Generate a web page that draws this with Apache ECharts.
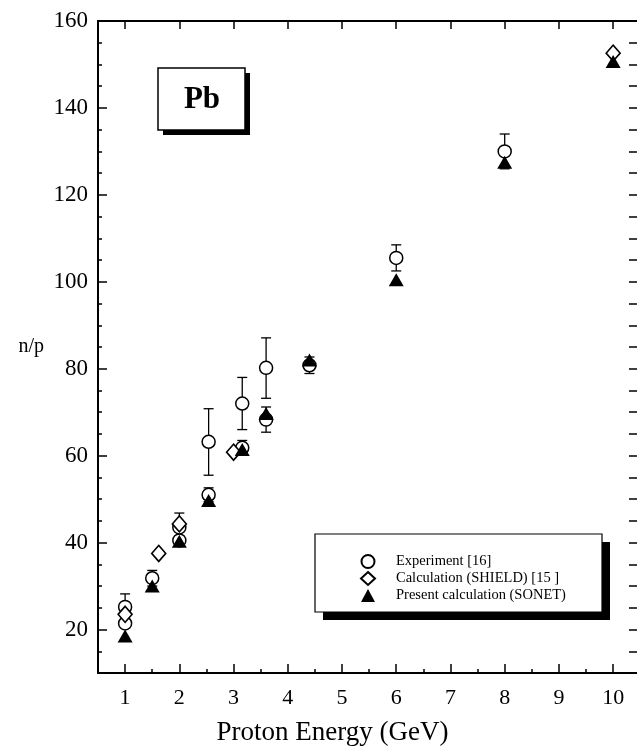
<!DOCTYPE html>
<html>
<head>
<meta charset="utf-8">
<script src="https://cdn.jsdelivr.net/npm/echarts@6/dist/echarts.min.js"></script>
<style>
  html, body { margin: 0; padding: 0; background: #fff; }
  #chart { width: 637px; height: 751px; }
</style>
</head>
<body>
<div id="chart"></div>
<script>
// Tick positions
const xMajorTicks = [1, 2, 3, 4, 5, 6, 7, 8, 9, 10];
const xMinorTicks = [1.5, 2.5, 3.5, 4.5, 5.5, 6.5, 7.5, 8.5, 9.5];
const yMajorTicks = [20, 40, 60, 80, 100, 120, 140, 160];
const yMinorTicks = [15, 25, 30, 35, 45, 50, 55, 65, 70, 75, 85, 90, 95,
                     105, 110, 115, 125, 130, 135, 145, 150, 155];

// Experiment [16]: energy (GeV), n/p, error bar low / high
const expEnergy = [1.0, 1.0, 1.5, 2.0, 2.0, 2.54, 2.54, 3.16, 3.16, 3.6, 3.6, 4.4, 6.0, 8.0];
const expValue  = [25.2, 21.4, 31.8, 43.5, 40.5, 63.2, 51.0, 72.0, 61.8, 80.2, 68.3, 80.8, 105.5, 130.0];
const expLow    = [22.2, 21.4, 30.0, 40.2, 39.5, 55.5, 49.4, 66.0, 60.1, 73.2, 65.4, 78.9, 102.5, 126.0];
const expHigh   = [28.2, 21.4, 33.6, 46.8, 41.5, 70.8, 52.6, 78.0, 63.5, 87.1, 71.2, 82.7, 108.5, 134.0];

// Calculation (SHIELD) [15]
const shieldEnergy = [1.0, 1.62, 2.0, 3.0, 10.0];
const shieldValue  = [23.5, 37.5, 44.3, 60.8, 152.6];

// Present calculation (SONET)
const sonetEnergy = [1.0, 1.5, 2.0, 2.54, 3.16, 3.6, 4.4, 6.0, 8.0, 10.0];
const sonetValue  = [18.5, 30.0, 40.3, 49.7, 61.4, 69.7, 82.0, 100.5, 127.5, 150.7];

const FONT = '"Liberation Serif", "DejaVu Serif", serif';
const INK = '#000';
const X_MIN = 0.5, X_MAX = 10.44;

const errorData = expEnergy
  .map((e, i) => [e, expValue[i], expLow[i], expHigh[i]])
  .filter(d => d[3] > d[2]);

const chart = echarts.init(document.getElementById('chart'), null, { renderer: 'canvas' });

chart.setOption({
  animation: false,
  backgroundColor: '#fff',
  grid: { left: 98, top: 21, width: 543, height: 658, containLabel: false },
  xAxis: [
    {
      type: 'value', position: 'bottom', min: X_MIN, max: X_MAX,
      axisLine: { show: true, lineStyle: { color: INK, width: 2 } },
      axisTick: { show: true, inside: true, length: 9, customValues: xMajorTicks,
                  lineStyle: { color: INK, width: 1.5 } },
      axisLabel: { customValues: xMajorTicks, color: INK, fontFamily: FONT, fontSize: 22, margin: 14 },
      splitLine: { show: false },
      name: 'Proton Energy (GeV)', nameLocation: 'middle', nameGap: 46,
      nameTextStyle: { color: INK, fontFamily: FONT, fontSize: 27, padding: [0, 70, 0, 0] }
    },
    {
      type: 'value', position: 'bottom', min: X_MIN, max: X_MAX,
      axisLine: { show: false },
      axisTick: { show: true, inside: true, length: 4, customValues: xMinorTicks,
                  lineStyle: { color: INK, width: 1.5 } },
      axisLabel: { show: false },
      splitLine: { show: false }
    },
    {
      type: 'value', position: 'top', min: X_MIN, max: X_MAX,
      axisLine: { show: true, lineStyle: { color: INK, width: 2 } },
      axisTick: { show: true, inside: true, length: 8, customValues: xMajorTicks,
                  lineStyle: { color: INK, width: 1.5 } },
      axisLabel: { show: false },
      splitLine: { show: false }
    }
  ],
  yAxis: [
    {
      type: 'value', position: 'left', min: 10, max: 160,
      axisLine: { show: true, lineStyle: { color: INK, width: 2 } },
      axisTick: { show: true, inside: true, length: 9, customValues: yMajorTicks,
                  lineStyle: { color: INK, width: 1.5 } },
      axisLabel: { customValues: yMajorTicks, color: INK, fontFamily: FONT, fontSize: 23, margin: 10 },
      splitLine: { show: false },
      name: 'n/p', nameLocation: 'middle', nameRotate: 0, nameGap: 54,
      nameTextStyle: { color: INK, fontFamily: FONT, fontSize: 20, padding: [10, 0, 0, 0] }
    },
    {
      type: 'value', position: 'left', min: 10, max: 160,
      axisLine: { show: false },
      axisTick: { show: true, inside: true, length: 4, customValues: yMinorTicks,
                  lineStyle: { color: INK, width: 1.5 } },
      axisLabel: { show: false },
      splitLine: { show: false }
    },
    {
      // right frame: only its inward ticks fall inside the canvas
      type: 'value', position: 'right', min: 10, max: 160,
      axisLine: { show: false },
      axisTick: { show: true, inside: true, length: 8,
                  customValues: yMajorTicks.concat(yMinorTicks),
                  lineStyle: { color: INK, width: 1.5 } },
      axisLabel: { show: false },
      splitLine: { show: false }
    }
  ],
  legend: {
    orient: 'vertical', left: 355, top: 549,
    itemWidth: 14, itemHeight: 13, itemGap: 2,
    textStyle: { color: INK, fontFamily: FONT, fontSize: 14.5, padding: [0, 0, 0, 16] },
    data: ['Experiment [16]', 'Calculation (SHIELD) [15 ]', 'Present calculation (SONET)']
  },
  graphic: [
    // Pb label box with drop shadow
    { type: 'rect', shape: { x: 163, y: 73, width: 87, height: 62 }, style: { fill: INK }, z: 100 },
    { type: 'rect', shape: { x: 158, y: 68, width: 87, height: 62 },
      style: { fill: '#fff', stroke: INK, lineWidth: 1.5 }, z: 101 },
    { type: 'text', x: 202, y: 100, z: 102,
      style: { text: 'Pb', fill: INK, font: 'bold 31px ' + FONT, textAlign: 'center', textVerticalAlign: 'middle' } },
    // Legend frame with drop shadow
    { type: 'rect', shape: { x: 323, y: 542, width: 287, height: 78 }, style: { fill: INK }, z: 1 },
    { type: 'rect', shape: { x: 315, y: 534, width: 287, height: 78 },
      style: { fill: '#fff', stroke: INK, lineWidth: 1.2 }, z: 2 }
  ],
  series: [
    {
      type: 'custom', name: 'errors', xAxisIndex: 0, yAxisIndex: 0, z: 3,
      encode: { x: 0, y: [1, 2, 3] },
      data: errorData,
      renderItem(params, api) {
        const e = api.value(0);
        const lo = api.coord([e, api.value(2)]);
        const hi = api.coord([e, api.value(3)]);
        const cap = 5;
        const st = { stroke: INK, lineWidth: 1.3 };
        return {
          type: 'group',
          children: [
            { type: 'line', shape: { x1: lo[0], y1: lo[1], x2: hi[0], y2: hi[1] }, style: st },
            { type: 'line', shape: { x1: hi[0] - cap, y1: hi[1], x2: hi[0] + cap, y2: hi[1] }, style: st },
            { type: 'line', shape: { x1: lo[0] - cap, y1: lo[1], x2: lo[0] + cap, y2: lo[1] }, style: st }
          ]
        };
      }
    },
    {
      type: 'scatter', name: 'Experiment [16]', xAxisIndex: 0, yAxisIndex: 0, z: 4,
      symbol: 'circle', symbolSize: 13,
      itemStyle: { color: '#fff', borderColor: INK, borderWidth: 1.5, opacity: 1 },
      data: expEnergy.map((e, i) => [e, expValue[i]])
    },
    {
      type: 'scatter', name: 'Calculation (SHIELD) [15 ]', xAxisIndex: 0, yAxisIndex: 0, z: 5,
      symbol: 'diamond', symbolSize: [14, 16],
      itemStyle: { color: '#fff', borderColor: INK, borderWidth: 1.6, opacity: 1 },
      data: shieldEnergy.map((e, i) => [e, shieldValue[i]])
    },
    {
      type: 'scatter', name: 'Present calculation (SONET)', xAxisIndex: 0, yAxisIndex: 0, z: 6,
      symbol: 'triangle', symbolSize: [15, 13],
      itemStyle: { color: INK, opacity: 1 },
      data: sonetEnergy.map((e, i) => [e, sonetValue[i]])
    }
  ]
});
</script>
</body>
</html>
